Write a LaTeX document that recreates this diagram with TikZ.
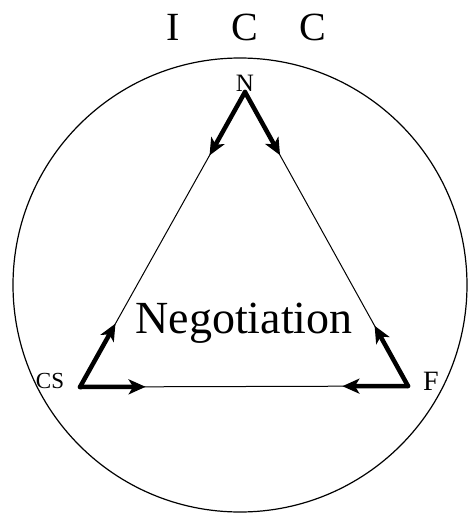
\documentclass[tikz,border=0pt]{standalone}
\usepackage{fontspec}
\setmainfont{Liberation Serif}
\usetikzlibrary{calc,arrows.meta}
\begin{document}
\begin{tikzpicture}[x=1pt,y=-1pt,
  thinline/.style={line width=1pt},
  thickarrow/.style={line width=4.5pt,line cap=round,-{Stealth[length=17pt,width=15pt,inset=4.5pt]}},
  lbl/.style={inner sep=0pt}]
\useasboundingbox (0,0) rectangle (471,520);
\node[draw,circle,line width=1.2pt,minimum size=454pt,inner sep=0pt] (circ) at (240,285) {};
\coordinate (N) at (245,92);
\coordinate (CS) at (80,387);
\coordinate (F) at (408,386);
\draw[thinline] (N) -- (CS) -- (F) -- cycle;
\draw[thickarrow] (N) -- ($(N)!0.215!(CS)$);
\draw[thickarrow] (N) -- ($(N)!0.215!(F)$);
\draw[thickarrow] (CS) -- ($(CS)!0.215!(N)$);
\draw[thickarrow] (CS) -- ($(CS)!0.2!(F)$);
\draw[thickarrow] (F) -- ($(F)!0.205!(N)$);
\draw[thickarrow] (F) -- ($(F)!0.2!(CS)$);
\node[lbl] (lI) at (173,27) {\fontsize{40}{42}\selectfont I};
\node[lbl] (lC1) at (245,27) {\fontsize{40}{42}\selectfont C};
\node[lbl] (lC2) at (313,27) {\fontsize{40}{42}\selectfont C};
\node[lbl] (lN) at (245,83) {\fontsize{25}{27}\selectfont N};
\node[lbl] (lCS) at (50,381) {\fontsize{23}{25}\selectfont CS};
\node[lbl] (lF) at (431,381) {\fontsize{28}{30}\selectfont F};
\node[lbl] (neg) at (244,323) {\fontsize{46}{48}\selectfont Negotiation};
\end{tikzpicture}
\end{document}
